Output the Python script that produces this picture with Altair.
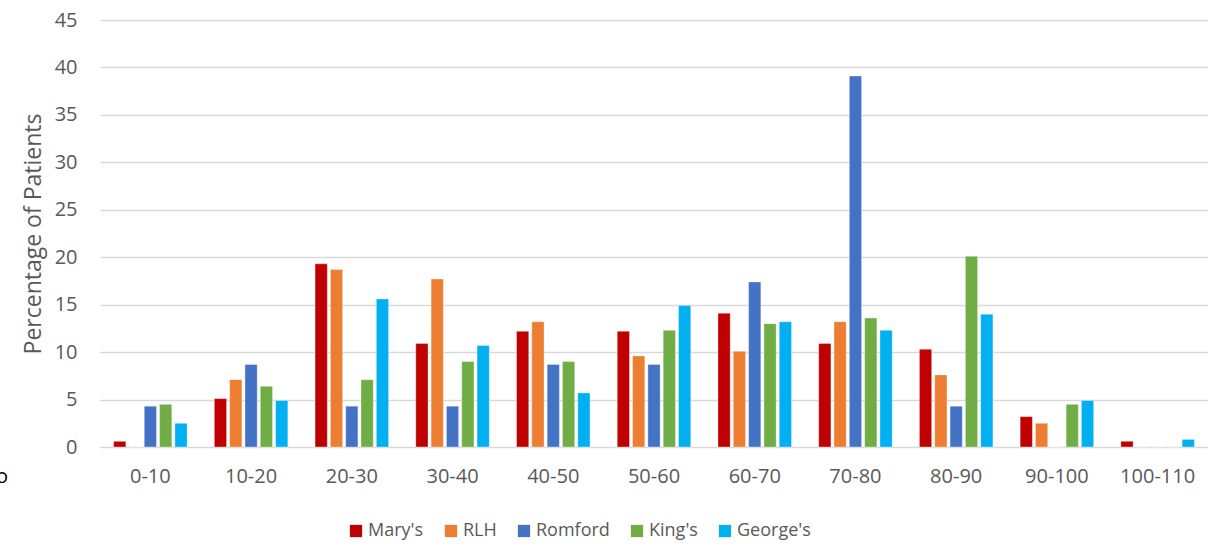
import altair as alt
import pandas as pd

categories = ["0-10", "10-20", "20-30", "30-40", "40-50", "50-60",
              "60-70", "70-80", "80-90", "90-100", "100-110"]
series = ["Mary's", "RLH", "Romford", "King's", "George's"]
colors = ["#C00000", "#ED7D31", "#4472C4", "#70AD47", "#00B0F0"]

marys = [0.6, 5.1, 19.3, 10.9, 12.2, 12.2, 14.1, 10.9, 10.3, 3.2, 0.6]
rlh = [0.0, 7.1, 18.7, 17.7, 13.2, 9.6, 10.1, 13.2, 7.6, 2.5, 0.0]
romford = [4.3, 8.7, 4.3, 4.3, 8.7, 8.7, 17.4, 39.1, 4.3, 0.0, 0.0]
kings = [4.5, 6.4, 7.1, 9.0, 9.0, 12.3, 13.0, 13.6, 20.1, 4.5, 0.0]
georges = [2.5, 4.9, 15.6, 10.7, 5.7, 14.9, 13.2, 12.3, 14.0, 4.9, 0.8]

rows = []
for name, vals in zip(series, [marys, rlh, romford, kings, georges]):
    for c, v in zip(categories, vals):
        rows.append({"Age": c, "Hospital": name, "Value": v})
df = pd.DataFrame(rows)

FONT = "Open Sans"
GREY = "#595959"

bars = alt.Chart(df).mark_bar(stroke="white", strokeWidth=0.6, strokeOpacity=0.6).encode(
    x=alt.X("Age:N", sort=categories,
            scale=alt.Scale(paddingInner=0.27, paddingOuter=0.135),
            axis=alt.Axis(title=None, labelAngle=0, labelFontSize=20, labelColor=GREY,
                          labelFont=FONT, domain=False, ticks=False, labelPadding=19)),
    xOffset=alt.XOffset("Hospital:N", sort=series, scale=alt.Scale(paddingInner=0.2)),
    y=alt.Y("Value:Q",
            scale=alt.Scale(domain=[0, 45], nice=False),
            axis=alt.Axis(title="Percentage of Patients", values=list(range(0, 50, 5)),
                          titleFontSize=23, titleFont=FONT, titleColor=GREY,
                          titleFontWeight="normal", titlePadding=9,
                          labelFontSize=20, labelFont=FONT, labelColor=GREY,
                          labelPadding=23, domain=False, ticks=False,
                          gridColor="#D9D9D9", gridWidth=1.5)),
    color=alt.Color("Hospital:N", sort=series,
                    scale=alt.Scale(domain=series, range=colors),
                    legend=alt.Legend(title=None, orient="none", direction="horizontal",
                                      legendX=247, legendY=502,
                                      symbolType="square", symbolSize=150,
                                      symbolStrokeWidth=0, labelFontSize=18,
                                      labelFont=FONT, labelColor=GREY,
                                      columnPadding=18, labelOffset=3)),
)

stray = alt.Chart(pd.DataFrame({"t": ["o"]})).mark_text(
    align="left", baseline="middle", fontSize=20, font=FONT, color="#000000"
).encode(text="t:N", x=alt.value(-104), y=alt.value(457))

chart = alt.layer(bars, stray).properties(
    width=1108, height=427,
    background="white",
    autosize=alt.AutoSizeParams(type="none"),
    padding={"left": 100, "top": 20, "right": 0, "bottom": 104},
).configure_view(stroke=None)

chart.save("out.html", embed_options={"renderer": "svg", "actions": False})
